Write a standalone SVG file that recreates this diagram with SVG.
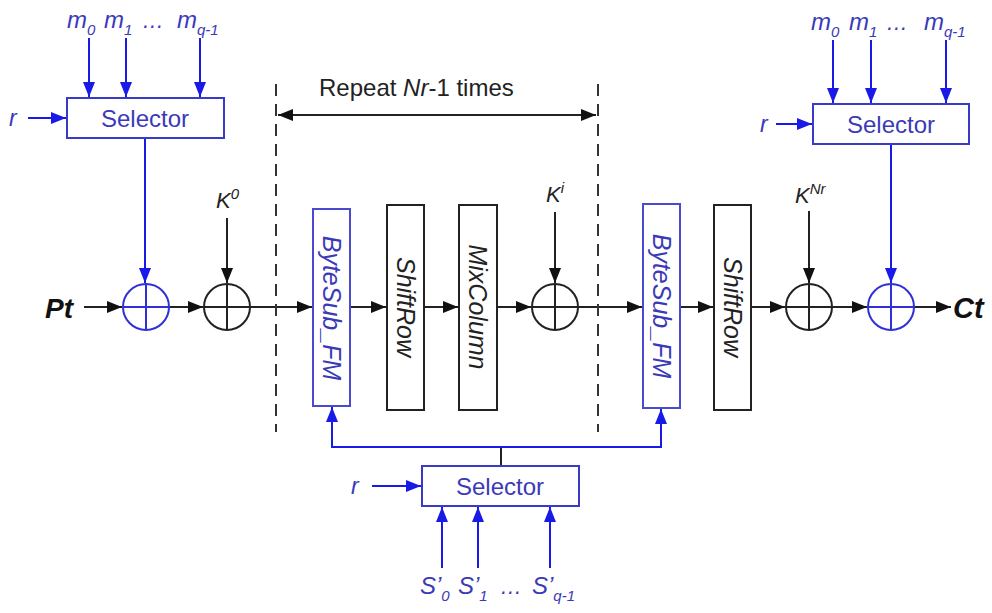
<svg xmlns="http://www.w3.org/2000/svg" width="992" height="613" viewBox="0 0 992 613">
<defs>
<marker id="ak" viewBox="0 0 15 12" refX="15" refY="6" markerWidth="15" markerHeight="12" markerUnits="userSpaceOnUse" orient="auto-start-reverse"><path d="M0,0 L15,6 L0,12 Z" fill="#111"/></marker>
<marker id="ab" viewBox="0 0 15 12" refX="15" refY="6" markerWidth="15" markerHeight="12" markerUnits="userSpaceOnUse" orient="auto-start-reverse"><path d="M0,0 L15,6 L0,12 Z" fill="#1a1ae8"/></marker>
</defs>
<style>
text{font-family:"Liberation Sans",Arial,sans-serif}
.bl{fill:#3a3ab8}
.it{font-style:italic}
.sel{fill:#fff;stroke:#3a3ac8;stroke-width:2}
.blk{fill:#fff;stroke:#222;stroke-width:2}
.bbox{fill:#fff;stroke:#4a4ad0;stroke-width:2}
.lk{stroke:#222;stroke-width:2;fill:none}
.lb{stroke:#1a1ae8;stroke-width:2;fill:none}
.ak{marker-end:url(#ak)}
.ab{marker-end:url(#ab)}
.dash{stroke:#333;stroke-width:2;stroke-dasharray:12,8;fill:none}
.xk{fill:none;stroke:#222;stroke-width:2}
.xb{fill:none;stroke:#3030d8;stroke-width:2}
.seltxt{font-size:24px;text-anchor:middle}
.vt{font-size:25px;text-anchor:middle;font-style:italic}
.ml{font-size:24px;font-style:italic}
.sub{font-size:15px}
</style>
<rect width="992" height="613" fill="#fff"/>

<g id="connectors">
<line class="lb ab" x1="89" y1="38" x2="89" y2="97"/>
<line class="lb ab" x1="126" y1="38" x2="126" y2="97"/>
<line class="lb ab" x1="200" y1="38" x2="200" y2="97"/>
<line class="lb ab" x1="28" y1="118" x2="66" y2="118"/>
<line class="lb ab" x1="145" y1="138" x2="145" y2="283"/>
<line class="lb ab" x1="833" y1="40" x2="833" y2="103"/>
<line class="lb ab" x1="871" y1="40" x2="871" y2="103"/>
<line class="lb ab" x1="946" y1="40" x2="946" y2="103"/>
<line class="lb ab" x1="776" y1="124" x2="812" y2="124"/>
<line class="lb ab" x1="891" y1="145" x2="891" y2="283"/>
<line class="lk ak" x1="227" y1="218" x2="227" y2="283"/>
<line class="lk ak" x1="555" y1="212" x2="555" y2="283"/>
<line class="lk ak" x1="809" y1="211" x2="809" y2="283"/>
<line class="lk ak" x1="84" y1="307" x2="122" y2="307"/>
<line class="lk ak" x1="169" y1="307" x2="203" y2="307"/>
<line class="lk ak" x1="250" y1="307" x2="312" y2="307"/>
<line class="lk ak" x1="350" y1="307" x2="386" y2="307"/>
<line class="lk ak" x1="424" y1="307" x2="458" y2="307"/>
<line class="lk ak" x1="497" y1="307" x2="531" y2="307"/>
<line class="lk ak" x1="578" y1="307" x2="642" y2="307"/>
<line class="lk ak" x1="680" y1="307" x2="713" y2="307"/>
<line class="lk ak" x1="751" y1="307" x2="785" y2="307"/>
<line class="lk ak" x1="832" y1="307" x2="867" y2="307"/>
<line class="lk ak" x1="914" y1="307" x2="951" y2="307"/>
<line class="dash" x1="276" y1="84" x2="276" y2="432"/>
<line class="dash" x1="598" y1="84" x2="598" y2="432"/>
<line class="lk" x1="278" y1="115" x2="596" y2="115" marker-start="url(#ak)" marker-end="url(#ak)"/>
<line class="lk" x1="501" y1="465" x2="501" y2="447"/>
<polyline class="lb" points="332,420 332,447 661,447 661,420"/>
<line class="lb ab" x1="332" y1="430" x2="332" y2="407"/>
<line class="lb ab" x1="661" y1="430" x2="661" y2="409"/>
<line class="lb ab" x1="372" y1="486" x2="421" y2="486"/>
<line class="lb ab" x1="442" y1="568" x2="442" y2="507"/>
<line class="lb ab" x1="478" y1="568" x2="478" y2="507"/>
<line class="lb ab" x1="550" y1="568" x2="550" y2="507"/>
</g>

<text x="319" y="96" font-size="24" fill="#222">Repeat <tspan class="it">Nr</tspan>-1 times</text>

<g id="selector-left">
<rect class="sel" x="67" y="98" width="157" height="40"/>
<text class="bl seltxt" x="145" y="127">Selector</text>
<text class="bl it" x="9" y="126" font-size="23">r</text>
<text class="bl ml" x="67" y="28">m<tspan class="sub" dy="7">0</tspan></text>
<text class="bl ml" x="104" y="28">m<tspan class="sub" dy="7">1</tspan></text>
<text class="bl it" x="142" y="28" font-size="22">…</text>
<text class="bl ml" x="177" y="28">m<tspan class="sub" dy="7">q-1</tspan></text>
</g>

<g id="selector-right">
<rect class="sel" x="813" y="104" width="156" height="40"/>
<text class="bl seltxt" x="891" y="133">Selector</text>
<text class="bl it" x="760" y="132" font-size="23">r</text>
<text class="bl ml" x="811" y="30">m<tspan class="sub" dy="7">0</tspan></text>
<text class="bl ml" x="849" y="30">m<tspan class="sub" dy="7">1</tspan></text>
<text class="bl it" x="886" y="30" font-size="22">…</text>
<text class="bl ml" x="924" y="30">m<tspan class="sub" dy="7">q-1</tspan></text>
</g>

<g id="selector-bottom">
<rect class="sel" x="422" y="466" width="157" height="40"/>
<text class="bl seltxt" x="500" y="495">Selector</text>
<text class="bl it" x="351" y="494" font-size="23">r</text>
<text class="bl ml" x="420" y="594">S’<tspan class="sub" dy="7">0</tspan></text>
<text class="bl ml" x="458" y="594">S’<tspan class="sub" dy="7">1</tspan></text>
<text class="bl it" x="500" y="594" font-size="22">…</text>
<text class="bl ml" x="532" y="594">S’<tspan class="sub" dy="7">q-1</tspan></text>
</g>

<g id="pt"><text x="45" y="318" font-size="28" font-weight="bold" font-style="italic" fill="#111">Pt</text></g>
<g id="ct"><text x="953" y="318" font-size="29" font-weight="bold" font-style="italic" fill="#111">Ct</text></g>

<g id="xor-m-left">
<circle class="xb" cx="146" cy="307" r="23"/>
<line class="xb" x1="123" y1="307" x2="169" y2="307"/><line class="xb" x1="146" y1="284" x2="146" y2="330"/>
</g>
<g id="xor-k0">
<circle class="xk" cx="227" cy="307" r="23"/>
<line class="xk" x1="204" y1="307" x2="250" y2="307"/><line class="xk" x1="227" y1="284" x2="227" y2="330"/>
<text class="it" x="216" y="208" font-size="22" fill="#222">K<tspan dy="-9" font-size="15">0</tspan></text>
</g>
<g id="bytesub1">
<rect class="bbox" x="313" y="209" width="37" height="197"/>
<text class="bl vt" transform="translate(323,308) rotate(90)">ByteSub_FM</text>
</g>
<g id="shiftrow1">
<rect class="blk" x="387" y="205" width="37" height="205"/>
<text class="vt" transform="translate(397,307) rotate(90)" fill="#222">ShiftRow</text>
</g>
<g id="mixcolumn">
<rect class="blk" x="459" y="205" width="38" height="205"/>
<text class="vt" transform="translate(469,307) rotate(90)" fill="#222">MixColumn</text>
</g>
<g id="xor-ki">
<circle class="xk" cx="555" cy="307" r="23"/>
<line class="xk" x1="532" y1="307" x2="578" y2="307"/><line class="xk" x1="555" y1="284" x2="555" y2="330"/>
<text class="it" x="546" y="202" font-size="22" fill="#222">K<tspan dy="-9" font-size="15">i</tspan></text>
</g>
<g id="bytesub2">
<rect class="bbox" x="643" y="204" width="37" height="204"/>
<text class="bl vt" transform="translate(653,306) rotate(90)">ByteSub_FM</text>
</g>
<g id="shiftrow2">
<rect class="blk" x="714" y="205" width="37" height="205"/>
<text class="vt" transform="translate(724,307) rotate(90)" fill="#222">ShiftRow</text>
</g>
<g id="xor-knr">
<circle class="xk" cx="809" cy="307" r="23"/>
<line class="xk" x1="786" y1="307" x2="832" y2="307"/><line class="xk" x1="809" y1="284" x2="809" y2="330"/>
<text class="it" x="795" y="203" font-size="22" fill="#222">K<tspan dy="-9" font-size="15">Nr</tspan></text>
</g>
<g id="xor-m-right">
<circle class="xb" cx="891" cy="307" r="23"/>
<line class="xb" x1="868" y1="307" x2="914" y2="307"/><line class="xb" x1="891" y1="284" x2="891" y2="330"/>
</g>
</svg>
